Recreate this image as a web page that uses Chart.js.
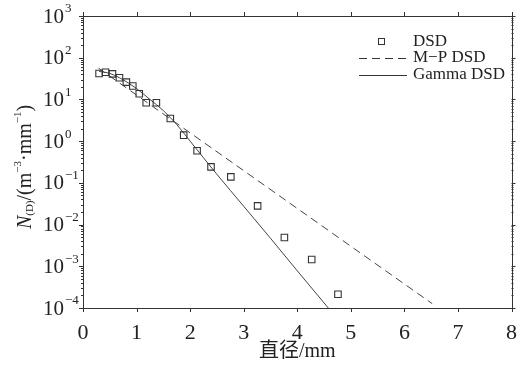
<!DOCTYPE html>
<html>
<head>
<meta charset="utf-8">
<script src="https://cdn.jsdelivr.net/npm/chart.js@4"></script>
<style>
  html, body { margin: 0; padding: 0; background: #fff; }
  #wrap { width: 521px; height: 365px; }
</style>
</head>
<body>
<div id="wrap"><canvas id="myChart" width="521" height="365"></canvas></div>
<script>
// measured drop size distribution (diameter mm, N per m^3 per mm)
const dsdD = [0.30, 0.42, 0.55, 0.68, 0.81, 0.93, 1.05, 1.18, 1.37, 1.63, 1.88, 2.13, 2.39, 2.76, 3.26, 3.76, 4.27, 4.76];
const dsdN = [42, 45, 41, 33, 26, 21, 13.7, 8.3, 8.3, 3.5, 1.39, 0.59, 0.242, 0.139, 0.028, 0.0049, 0.00145, 0.000213];

// M-P fit (straight on the log axis)
const mpD = [0.29, 6.52];
const mpN = [56, 0.000127];

// Gamma fit
const gammaD = [0.3, 0.5, 0.75, 1.0, 1.25, 1.5, 1.75, 2.0, 2.5, 3.0, 3.5, 4.0, 4.58];
const gammaN = [47, 42, 29.5, 18.2, 10, 5.4, 2.5, 1.0, 0.16, 0.0275, 0.0047, 0.00078, 0.0001];

const xTicks = [0, 1, 2, 3, 4, 5, 6, 7, 8];
const yExps = [-4, -3, -2, -1, 0, 1, 2, 3];

const legendLabels = ['DSD', 'M\u2212P DSD', 'Gamma DSD'];

const serif = '"Liberation Serif", "Times New Roman", serif';
const ink = '#333';

function pts(xs, ys) {
    return xs.map((d, i) => ({ x: d, y: ys[i] }));
}

// frame, tick marks, y labels, y title and legend
const decor = {
    id: 'decor',
    afterDraw(chart) {
        const ctx = chart.ctx;
        const a = chart.chartArea;
        const sx = chart.scales.x, sy = chart.scales.y;
        ctx.save();
        ctx.strokeStyle = ink;
        ctx.lineWidth = 1;
        const seg = (x1, y1, x2, y2) => {
            ctx.beginPath(); ctx.moveTo(x1, y1); ctx.lineTo(x2, y2); ctx.stroke();
        };
        ctx.strokeRect(Math.round(a.left) + 0.5, Math.round(a.top) + 0.5,
            Math.round(a.right - a.left), Math.round(a.bottom - a.top));

        xTicks.forEach(v => {
            const px = Math.round(sx.getPixelForValue(v)) + 0.5;
            seg(px, a.bottom, px, a.bottom + 4);
            seg(px, a.top, px, a.top - 4);
        });

        yExps.forEach(e => {
            for (let m = 1; m <= 9; m++) {
                if (e === 3 && m > 1) break;
                const py = Math.round(sy.getPixelForValue(m * Math.pow(10, e))) + 0.5;
                const len = m === 1 ? 4 : 2;
                seg(a.left - len, py, a.left, py);
                seg(a.right, py, a.right + len, py);
            }
        });

        // y tick labels 10^n
        ctx.fillStyle = '#222';
        ctx.textBaseline = 'middle';
        ctx.textAlign = 'left';
        yExps.forEach(e => {
            const py = sy.getPixelForValue(Math.pow(10, e));
            ctx.font = '21px ' + serif;
            ctx.fillText('10', 43, py + 1);
            const w = ctx.measureText('10').width;
            ctx.font = '13px ' + serif;
            ctx.fillText(e < 0 ? '\u2212' + (-e) : String(e), 43 + w + 1, py - 7);
        });

        // y axis title
        ctx.translate(26, 167);
        ctx.rotate(-Math.PI / 2);
        const parts = [
            ['N', 'italic 20px ' + serif, 0],
            ['(D)', '11px ' + serif, 4],
            ['/(m', '20px ' + serif, 0],
            ['\u22123', '11px ' + serif, -8],
            ['\u00b7mm', '20px ' + serif, 0],
            ['\u22121', '11px ' + serif, -8],
            [')', '20px ' + serif, 0]
        ];
        let total = 0;
        parts.forEach(p => { ctx.font = p[1]; total += ctx.measureText(p[0]).width; });
        let cx = -total / 2;
        parts.forEach(p => {
            ctx.font = p[1];
            ctx.fillText(p[0], cx, p[2]);
            cx += ctx.measureText(p[0]).width;
        });
        ctx.setTransform(1, 0, 0, 1, 0, 0);

        // legend
        ctx.font = '17px ' + serif;
        ctx.strokeStyle = ink;
        ctx.strokeRect(378.5, 38.5, 6, 6);
        ctx.fillText(legendLabels[0], 413, 42);
        ctx.setLineDash([8, 5]);
        seg(359, 58.5, 407, 58.5);
        ctx.setLineDash([]);
        ctx.fillText(legendLabels[1], 413, 58);
        seg(359, 75.5, 407, 75.5);
        ctx.fillText(legendLabels[2], 413, 75);
        ctx.restore();
    }
};

const ctx = document.getElementById('myChart').getContext('2d');
const chart = new Chart(ctx, {
    type: 'scatter',
    data: {
        datasets: [{
            label: legendLabels[0],
            data: pts(dsdD, dsdN),
            pointStyle: 'rect',
            pointRadius: 4.6,
            borderColor: ink,
            borderWidth: 1.1,
            backgroundColor: 'rgba(0,0,0,0)'
        }, {
            label: legendLabels[1],
            data: pts(mpD, mpN),
            showLine: true,
            pointRadius: 0,
            borderColor: '#444',
            borderWidth: 1,
            borderDash: [8, 5]
        }, {
            label: legendLabels[2],
            data: pts(gammaD, gammaN),
            showLine: true,
            pointRadius: 0,
            borderColor: '#444',
            borderWidth: 1,
            cubicInterpolationMode: 'monotone'
        }]
    },
    options: {
        responsive: false,
        animation: false,
        layout: { padding: { top: 16, right: 9, left: 0, bottom: 0 } },
        plugins: {
            legend: { display: false },
            tooltip: { enabled: false }
        },
        scales: {
            x: {
                type: 'linear',
                min: 0,
                max: 8,
                afterBuildTicks: s => { s.ticks = xTicks.map(v => ({ value: v })); },
                afterFit: s => { s.height = 57; },
                grid: { display: false },
                border: { display: false },
                ticks: {
                    color: '#222',
                    padding: 4,
                    font: { family: serif, size: 22 }
                },
                title: {
                    display: true,
                    text: '直径/mm',
                    color: '#222',
                    font: { family: '"Liberation Serif", "Noto Sans CJK SC", serif', size: 20 },
                    padding: { top: 0, bottom: 1 }
                }
            },
            y: {
                type: 'logarithmic',
                min: 1e-4,
                max: 1e3,
                afterFit: s => { s.width = 83; },
                grid: { display: false },
                border: { display: false },
                ticks: { display: false }
            }
        }
    },
    plugins: [decor]
});
</script>
</body>
</html>
